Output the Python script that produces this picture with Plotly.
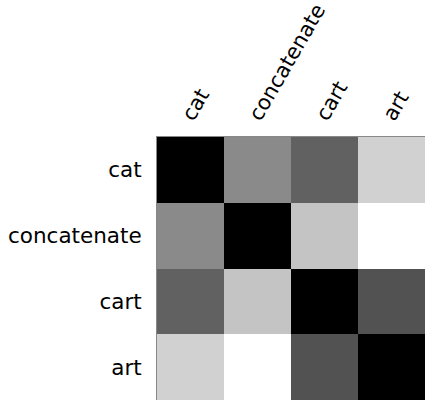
import plotly.graph_objects as go

words = ["cat", "concatenate", "cart", "art"]
similarity = [
    [1.00, 0.46, 0.62, 0.18],
    [0.46, 1.00, 0.23, 0.00],
    [0.62, 0.23, 1.00, 0.68],
    [0.18, 0.00, 0.68, 1.00],
]

fig = go.Figure(go.Heatmap(
    z=similarity, x=words, y=words,
    colorscale=[[0, "white"], [1, "black"]],
    zmin=0, zmax=1, showscale=False, xgap=0, ygap=0,
))

fig.update_layout(
    width=425, height=400,
    margin=dict(l=157, r=0, t=137, b=0),
    paper_bgcolor="white", plot_bgcolor="white",
    font=dict(family="DejaVu Sans", size=21.5, color="black"),
)
fig.update_xaxes(side="top", tickangle=-60, showline=True, linecolor="#888888", automargin=False,
                 linewidth=1, showgrid=False, zeroline=False, ticks="",
                 tickfont=dict(size=21), ticklabelstandoff=0, ticklabelshift=-6)
fig.update_yaxes(autorange="reversed", showline=True, linecolor="#888888", automargin=False,
                 linewidth=1, showgrid=False, zeroline=False, ticks="", ticklabelstandoff=10)

fig.write_html(
    "out.html",
    config={"displayModeBar": False},
    post_script="document.body.style.margin='0';document.body.style.overflow='hidden';",
)
